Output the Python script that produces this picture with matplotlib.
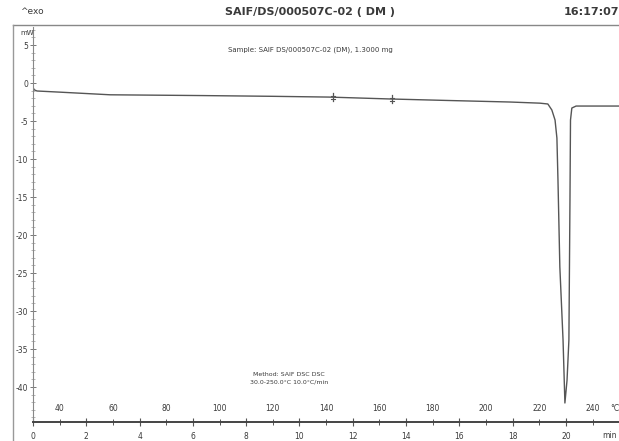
import matplotlib
matplotlib.use("Agg")
import matplotlib.pyplot as plt
from matplotlib.lines import Line2D
import numpy as np

# DSC run: heat flow (mW) against time (min), 10 K/min from 30 C
time_min = [0.0, 0.05, 0.15, 1.0, 2.9, 6.3, 9.0, 11.1, 13.4, 15.6, 17.9, 19.02,
            19.32, 19.47, 19.59, 19.66, 19.70, 19.77, 19.89, 19.96,
            20.04, 20.11, 20.15, 20.17, 20.22, 20.38, 21.99]
heat_flow = [-0.6, -0.9, -1.05, -1.2, -1.55, -1.65, -1.75, -1.85, -2.1, -2.3, -2.5, -2.65,
             -2.76, -3.55, -4.87, -7.24, -12.8, -24.2, -33.8, -42.1,
             -39.1, -33.8, -15.4, -4.87, -3.29, -3.03, -3.03]

limit_times = [11.26, 13.47]
time_ticks = [0, 2, 4, 6, 8, 10, 12, 14, 16, 18, 20]
temp_ticks = [40, 60, 80, 100, 120, 140, 160, 180, 200, 220, 240]
mw_ticks = [5, 0, -5, -10, -15, -20, -25, -30, -35, -40]

title = "SAIF/DS/000507C-02 ( DM )"
sample = "Sample: SAIF DS/000507C-02 (DM), 1.3000 mg"
method = ["Method: SAIF DSC DSC", "30.0-250.0\u00b0C 10.0\u00b0C/min"]

W, H = 619, 441
fig = plt.figure(figsize=(W / 100, H / 100), dpi=100)
ink = "#3a3a3a"

ax = fig.add_axes([33 / W, 19 / H, 1 - 33 / W, (422 - 27) / H])
ax.plot(time_min, heat_flow, color="#555555", lw=1.0)
for t in limit_times:
    y = np.interp(t, time_min, heat_flow)
    ax.plot([t, t], [y - 0.55, y + 0.55], color="#555555", lw=0.9)
    ax.plot([t - 0.08, t + 0.08], [y + 0.2, y + 0.2], color="#555555", lw=0.8)
    ax.plot([t - 0.08, t + 0.08], [y - 0.2, y - 0.2], color="#555555", lw=0.8)

ax.set_xlim(0, 21.99)
ax.set_ylim(-44.6, 7.37)
for s in ["top", "right"]:
    ax.spines[s].set_visible(False)
ax.spines["left"].set_color("#888888")
ax.spines["left"].set_linewidth(0.8)
ax.spines["bottom"].set_color("#444444")
ax.spines["bottom"].set_linewidth(1.4)

ax.set_yticks(mw_ticks)
ax.set_yticklabels([str(v) for v in mw_ticks], fontsize=5.5, color=ink)
ax.set_yticks(np.arange(-44, 8, 1), minor=True)
ax.tick_params(axis="y", which="major", direction="inout", length=5, width=0.7,
               color="#777777", pad=1)
ax.tick_params(axis="y", which="minor", direction="inout", length=3, width=0.5,
               color="#999999")

ax.set_xticks(time_ticks)
ax.set_xticklabels([str(v) for v in time_ticks], fontsize=5.5, color=ink)
ax.set_xticks(np.arange(0, 22, 1), minor=True)
ax.tick_params(axis="x", which="major", direction="inout", length=6, width=0.8,
               color="#555555", pad=4)
ax.tick_params(axis="x", which="minor", direction="inout", length=5, width=0.7,
               color="#555555")

# temperature scale sits just above the time axis
tr = ax.get_xaxis_transform()
for T in temp_ticks:
    ax.text((T - 30) / 10, 0.035, str(T), transform=tr, ha="center", va="center",
            fontsize=5.5, color=ink)
ax.text(21.85, 0.035, "\u00b0C", transform=tr, ha="center", va="center",
        fontsize=5.5, color=ink)
ax.text(21.65, -0.033, "min", transform=tr, ha="center", va="center",
        fontsize=5.5, color=ink)

ax.text(9.6, 0.12, method[0], transform=tr, ha="center", va="center",
        fontsize=4.5, color=ink)
ax.text(9.6, 0.10, method[1], transform=tr, ha="center", va="center",
        fontsize=4.5, color=ink)

# header row and frame
fig.text(20 / W, 1 - 12 / H, "^exo", fontsize=6.5, color=ink, va="center")
fig.text(310 / W, 1 - 12 / H, title, fontsize=8, color=ink, va="center",
         ha="center", fontweight="bold")
fig.text(619 / W, 1 - 12 / H, "16:17:07", fontsize=8, color=ink, va="center",
         ha="right", fontweight="bold")
fig.text(310 / W, 1 - 50 / H, sample, fontsize=5, color=ink, va="center",
         ha="center")
fig.text(20 / W, 1 - 33 / H, "mW", fontsize=5, color=ink, va="center")

fig.add_artist(Line2D([13 / W, 1], [1 - 25 / H, 1 - 25 / H], color="#888888", lw=1.0))
fig.add_artist(Line2D([13 / W, 13 / W], [0, 1 - 25 / H], color="#999999", lw=1.0))

fig.savefig("out.png", dpi=100)
